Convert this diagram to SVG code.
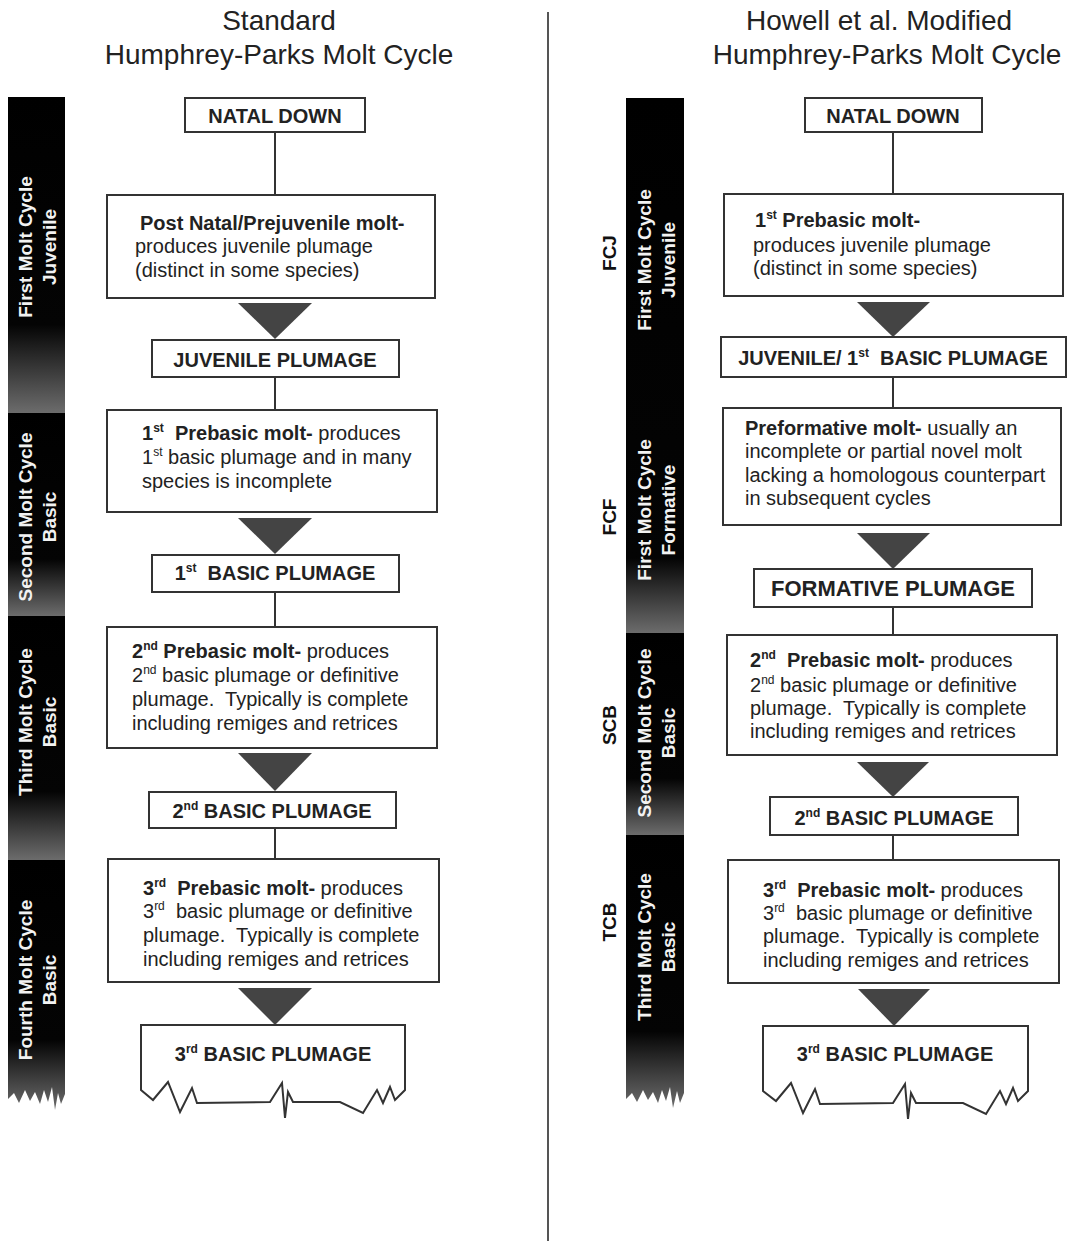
<svg xmlns="http://www.w3.org/2000/svg" width="1076" height="1241" viewBox="0 0 1076 1241">
<defs>
<linearGradient id="gBar" x1="0" y1="0" x2="0" y2="1">
<stop offset="0" stop-color="#000"/>
<stop offset="0.72" stop-color="#040404"/>
<stop offset="1" stop-color="#6c6c6c"/>
</linearGradient>
<linearGradient id="gBarLong" x1="0" y1="0" x2="0" y2="1">
<stop offset="0" stop-color="#000"/>
<stop offset="0.86" stop-color="#040404"/>
<stop offset="1" stop-color="#6c6c6c"/>
</linearGradient>
<style>
.title{font-family:"Liberation Sans",Arial,sans-serif;font-size:28px;fill:#222;text-anchor:middle}
.bar{font-family:"Liberation Sans",Arial,sans-serif;font-size:19px;font-weight:bold;fill:#f2f2f2;text-anchor:middle}
.abbr{font-family:"Liberation Sans",Arial,sans-serif;font-size:19px;font-weight:bold;fill:#111;text-anchor:middle}
.box{fill:#fff;stroke:#333;stroke-width:2}
.lbl{font-family:"Liberation Sans",Arial,sans-serif;font-size:20px;font-weight:bold;fill:#222;text-anchor:middle;white-space:pre}
.txt{font-family:"Liberation Sans",Arial,sans-serif;font-size:20px;fill:#222;white-space:pre}
.b{font-weight:bold}
.sup{font-size:12px}
.line{stroke:#333;stroke-width:2;fill:none}
.tri{fill:#444}
</style>
</defs>
<rect width="1076" height="1241" fill="#fff"/>

<g id="titles">
<text class="title" x="279" y="30">Standard</text>
<text class="title" x="279" y="64">Humphrey-Parks Molt Cycle</text>
<text class="title" x="879" y="30">Howell et al. Modified</text>
<text class="title" x="887" y="64">Humphrey-Parks Molt Cycle</text>
</g>
<line id="divider" x1="548" y1="12" x2="548" y2="1241" stroke="#555" stroke-width="2"/>

<g id="left-bars">
<g id="lbar1"><rect x="8" y="97" width="57" height="316" fill="url(#gBar)"/>
<text class="bar" transform="translate(32,247) rotate(-90)">First Molt Cycle</text>
<text class="bar" transform="translate(56,247) rotate(-90)">Juvenile</text></g>
<g id="lbar2"><rect x="8" y="413" width="57" height="203" fill="url(#gBar)"/>
<text class="bar" transform="translate(32,517) rotate(-90)">Second Molt Cycle</text>
<text class="bar" transform="translate(56,517) rotate(-90)">Basic</text></g>
<g id="lbar3"><rect x="8" y="616" width="57" height="244" fill="url(#gBar)"/>
<text class="bar" transform="translate(32,722) rotate(-90)">Third Molt Cycle</text>
<text class="bar" transform="translate(56,722) rotate(-90)">Basic</text></g>
<g id="lbar4"><path d="M8,860 L65,860 L65,1094 L61,1104 L58,1093 L55,1110 L52,1087 L48,1102 L44,1090 L40,1104 L35,1092 L30,1101 L25,1090 L19,1103 L14,1093 L8,1099 Z" fill="url(#gBar)"/>
<text class="bar" transform="translate(32,980) rotate(-90)">Fourth Molt Cycle</text>
<text class="bar" transform="translate(56,980) rotate(-90)">Basic</text></g>
</g>

<g id="right-bars">
<g id="rbar1"><rect x="626" y="98" width="58" height="535" fill="url(#gBarLong)"/>
<text class="bar" transform="translate(651,260) rotate(-90)">First Molt Cycle</text>
<text class="bar" transform="translate(675,260) rotate(-90)">Juvenile</text>
<text class="bar" transform="translate(651,510) rotate(-90)">First Molt Cycle</text>
<text class="bar" transform="translate(675,510) rotate(-90)">Formative</text></g>
<g id="rbar2"><rect x="626" y="633" width="58" height="202" fill="url(#gBar)"/>
<text class="bar" transform="translate(651,733) rotate(-90)">Second Molt Cycle</text>
<text class="bar" transform="translate(675,733) rotate(-90)">Basic</text></g>
<g id="rbar3"><path d="M626,835 L684,835 L684,1093 L680,1103 L677,1091 L673,1108 L670,1087 L666,1101 L662,1090 L658,1103 L653,1092 L648,1100 L643,1090 L637,1102 L632,1093 L626,1099 Z" fill="url(#gBar)"/>
<text class="bar" transform="translate(651,947) rotate(-90)">Third Molt Cycle</text>
<text class="bar" transform="translate(675,947) rotate(-90)">Basic</text></g>
<g id="abbrs">
<text class="abbr" transform="translate(616,253) rotate(-90)">FCJ</text>
<text class="abbr" transform="translate(616,517) rotate(-90)">FCF</text>
<text class="abbr" transform="translate(616,725) rotate(-90)">SCB</text>
<text class="abbr" transform="translate(616,922) rotate(-90)">TCB</text>
</g>
</g>

<g id="connectors">
<line class="line" x1="275" y1="132" x2="275" y2="195"/>
<line class="line" x1="275" y1="377" x2="275" y2="410"/>
<line class="line" x1="275" y1="592" x2="275" y2="627"/>
<line class="line" x1="275" y1="828" x2="275" y2="859"/>
<polygon class="tri" points="238,303 312,303 275,339"/>
<polygon class="tri" points="238,518 312,518 275,554"/>
<polygon class="tri" points="238,753 312,753 275,791"/>
<polygon class="tri" points="238,988 312,988 275,1025"/>
<line class="line" x1="893" y1="132" x2="893" y2="194"/>
<line class="line" x1="893" y1="377" x2="893" y2="408"/>
<line class="line" x1="893" y1="607" x2="893" y2="635"/>
<line class="line" x1="893" y1="835" x2="893" y2="860"/>
<polygon class="tri" points="857,302 930,302 893,337"/>
<polygon class="tri" points="857,533 930,533 893,569"/>
<polygon class="tri" points="857,762 929,762 893,797"/>
<polygon class="tri" points="858,989 930,989 894,1026"/>
</g>

<g id="left-natal"><rect class="box" x="185" y="98" width="180" height="34"/>
<text class="lbl" x="275" y="123">NATAL DOWN</text></g>
<g id="left-postnatal"><rect class="box" x="107" y="195" width="328" height="103"/>
<text class="txt" x="140" y="230"><tspan class="b">Post Natal/Prejuvenile molt-</tspan></text>
<text class="txt" x="135" y="253">produces juvenile plumage</text>
<text class="txt" x="135" y="277">(distinct in some species)</text></g>
<g id="left-juv"><rect class="box" x="152" y="340" width="247" height="37"/>
<text class="lbl" x="275" y="367">JUVENILE PLUMAGE</text></g>
<g id="left-pb1"><rect class="box" x="107" y="410" width="330" height="102"/>
<text class="txt" x="142" y="440"><tspan class="b">1</tspan><tspan class="b sup" dy="-8">st</tspan><tspan class="b" dy="8">  Prebasic molt-</tspan> produces</text>
<text class="txt" x="142" y="464">1<tspan class="sup" dy="-8">st</tspan><tspan dy="8"> basic plumage and in many</tspan></text>
<text class="txt" x="142" y="488">species is incomplete</text></g>
<g id="left-b1"><rect class="box" x="152" y="555" width="247" height="37"/>
<text class="lbl" x="275" y="580">1<tspan class="sup" dy="-8">st</tspan><tspan dy="8">  BASIC PLUMAGE</tspan></text></g>
<g id="left-pb2"><rect class="box" x="107" y="627" width="330" height="121"/>
<text class="txt" x="132" y="658"><tspan class="b">2</tspan><tspan class="b sup" dy="-8">nd</tspan><tspan class="b" dy="8"> Prebasic molt-</tspan> produces</text>
<text class="txt" x="132" y="682">2<tspan class="sup" dy="-8">nd</tspan><tspan dy="8"> basic plumage or definitive</tspan></text>
<text class="txt" x="132" y="706">plumage.  Typically is complete</text>
<text class="txt" x="132" y="730">including remiges and retrices</text></g>
<g id="left-b2"><rect class="box" x="149" y="792" width="247" height="36"/>
<text class="lbl" x="272" y="818">2<tspan class="sup" dy="-8">nd</tspan><tspan dy="8"> BASIC PLUMAGE</tspan></text></g>
<g id="left-pb3"><rect class="box" x="108" y="859" width="331" height="123"/>
<text class="txt" x="143" y="895"><tspan class="b">3</tspan><tspan class="b sup" dy="-8">rd</tspan><tspan class="b" dy="8">  Prebasic molt-</tspan> produces</text>
<text class="txt" x="143" y="918">3<tspan class="sup" dy="-8">rd</tspan><tspan dy="8">  basic plumage or definitive</tspan></text>
<text class="txt" x="143" y="942">plumage.  Typically is complete</text>
<text class="txt" x="143" y="966">including remiges and retrices</text></g>
<g id="left-b3"><path class="box" d="M141,1025 L405,1025 L405,1090 L395,1100 L390,1087 L383,1103 L377,1090 L363,1113 L340,1102 L293,1102 L288,1092 L285,1118 L282,1083 L270,1102 L197,1103 L192,1088 L180,1112 L168,1082 L153,1100 L141,1090 Z"/>
<text class="lbl" x="273" y="1061">3<tspan class="sup" dy="-8">rd</tspan><tspan dy="8"> BASIC PLUMAGE</tspan></text></g>

<g id="right-natal"><rect class="box" x="805" y="98" width="177" height="34"/>
<text class="lbl" x="893" y="123">NATAL DOWN</text></g>
<g id="right-pb1"><rect class="box" x="724" y="194" width="339" height="102"/>
<text class="txt" x="755" y="227"><tspan class="b">1</tspan><tspan class="b sup" dy="-8">st</tspan><tspan class="b" dy="8"> Prebasic molt-</tspan></text>
<text class="txt" x="753" y="252">produces juvenile plumage</text>
<text class="txt" x="753" y="275">(distinct in some species)</text></g>
<g id="right-juv"><rect class="box" x="721" y="337" width="345" height="40"/>
<text class="lbl" x="893" y="365">JUVENILE/ 1<tspan class="sup" dy="-8">st</tspan><tspan dy="8">  BASIC PLUMAGE</tspan></text></g>
<g id="right-preform"><rect class="box" x="723" y="408" width="338" height="117"/>
<text class="txt" x="745" y="435"><tspan class="b">Preformative molt-</tspan> usually an</text>
<text class="txt" x="745" y="458">incomplete or partial novel molt</text>
<text class="txt" x="745" y="482">lacking a homologous counterpart</text>
<text class="txt" x="745" y="505">in subsequent cycles</text></g>
<g id="right-form"><rect class="box" x="754" y="569" width="278" height="38"/>
<text class="lbl" x="893" y="596" style="font-size:22px">FORMATIVE PLUMAGE</text></g>
<g id="right-pb2"><rect class="box" x="727" y="635" width="330" height="120"/>
<text class="txt" x="750" y="667"><tspan class="b">2</tspan><tspan class="b sup" dy="-8">nd</tspan><tspan class="b" dy="8">  Prebasic molt-</tspan> produces</text>
<text class="txt" x="750" y="692">2<tspan class="sup" dy="-8">nd</tspan><tspan dy="8"> basic plumage or definitive</tspan></text>
<text class="txt" x="750" y="715">plumage.  Typically is complete</text>
<text class="txt" x="750" y="738">including remiges and retrices</text></g>
<g id="right-b2"><rect class="box" x="770" y="797" width="248" height="38"/>
<text class="lbl" x="894" y="825">2<tspan class="sup" dy="-8">nd</tspan><tspan dy="8"> BASIC PLUMAGE</tspan></text></g>
<g id="right-pb3"><rect class="box" x="728" y="860" width="331" height="123"/>
<text class="txt" x="763" y="897"><tspan class="b">3</tspan><tspan class="b sup" dy="-8">rd</tspan><tspan class="b" dy="8">  Prebasic molt-</tspan> produces</text>
<text class="txt" x="763" y="920">3<tspan class="sup" dy="-8">rd</tspan><tspan dy="8">  basic plumage or definitive</tspan></text>
<text class="txt" x="763" y="943">plumage.  Typically is complete</text>
<text class="txt" x="763" y="967">including remiges and retrices</text></g>
<g id="right-b3"><path class="box" d="M763,1026 L1028,1026 L1028,1091 L1018,1101 L1013,1088 L1006,1104 L1000,1091 L986,1114 L963,1103 L916,1103 L911,1093 L908,1119 L905,1084 L893,1103 L820,1104 L815,1089 L803,1113 L791,1083 L776,1101 L763,1091 Z"/>
<text class="lbl" x="895" y="1061">3<tspan class="sup" dy="-8">rd</tspan><tspan dy="8"> BASIC PLUMAGE</tspan></text></g>
</svg>
